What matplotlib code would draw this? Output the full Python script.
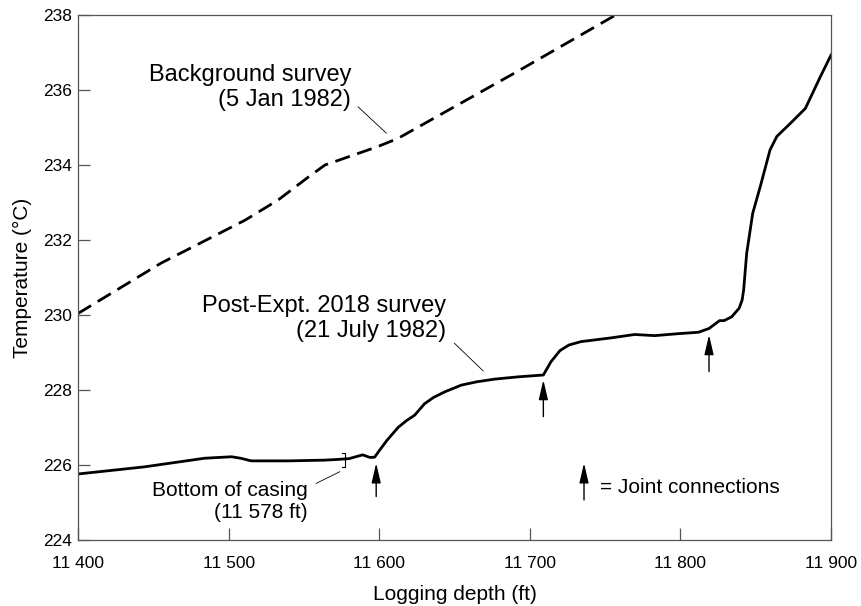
import matplotlib

matplotlib.use("Agg")

import matplotlib.pyplot as plt

plt.rcParams["font.family"] = ["Liberation Sans", "DejaVu Sans"]

# background survey, 5 Jan 1982 (dashed)
BG_DEPTH = [11400, 11455, 11511, 11533, 11553, 11564, 11599, 11612.5, 11692, 11757]
BG_TEMP = [230.04, 231.38, 232.53, 233.07, 233.68, 234.0, 234.49, 234.71, 236.5, 238.0]

# post-experiment survey, 21 July 1982 (solid)
POST_DEPTH = [
    11400, 11444, 11484, 11502, 11508, 11515, 11540, 11564, 11573, 11580,
    11589, 11594, 11597, 11600, 11605, 11612.5, 11618, 11623.6, 11630, 11636,
    11643.5, 11654.5, 11665, 11676.7, 11692, 11709, 11714, 11720, 11726, 11734,
    11754, 11769.6, 11783, 11798, 11812, 11819, 11826, 11829, 11834, 11839,
    11841, 11842, 11844, 11848, 11853, 11859.5, 11864, 11873, 11883, 11893, 11900,
]
POST_TEMP = [
    225.76, 225.95, 226.18, 226.22, 226.18, 226.11, 226.11, 226.13, 226.15, 226.17,
    226.27, 226.2, 226.21, 226.38, 226.65, 227.0, 227.18, 227.33, 227.63, 227.8,
    227.95, 228.13, 228.22, 228.29, 228.35, 228.4, 228.75, 229.05, 229.2, 229.29,
    229.39, 229.48, 229.45, 229.5, 229.54, 229.64, 229.85, 229.85, 229.95, 230.18,
    230.4, 230.67, 231.64, 232.71, 233.42, 234.4, 234.76, 235.11, 235.51, 236.36, 236.93,
]

# joint connections (arrows): depth, tail and tip temperature
JOINT_DEPTH = [11598, 11709, 11819]
JOINT_TAIL = [225.16, 227.29, 228.49]
JOINT_TIP = [226.05, 228.27, 229.47]

CASING_DEPTH = 11578
CASING_TEMP = (225.95, 226.32)

X_TICKS = [11400, 11500, 11600, 11700, 11800, 11900]
X_TICK_LABELS = ["11 400", "11 500", "11 600", "11 700", "11 800", "11 900"]
Y_TICKS = [224, 226, 228, 230, 232, 234, 236, 238]

SPINE = "#555555"


def arrow(ax, x, y0, y1):
    ax.annotate(
        "",
        xy=(x, y1),
        xytext=(x, y0),
        arrowprops=dict(arrowstyle="-|>,head_length=1.2,head_width=0.28", color="black",
                        lw=1.0, shrinkA=0, shrinkB=0, mutation_scale=10),
    )


fig = plt.figure(figsize=(8.61, 6.06), dpi=100)
ax = fig.add_axes([78 / 861, 1 - 540 / 606, 753 / 861, 525 / 606])

ax.plot(BG_DEPTH, BG_TEMP, color="black", lw=2.0, dashes=(5.5, 2.8), solid_capstyle="butt")
ax.plot(POST_DEPTH, POST_TEMP, color="black", lw=2.0)

for x, y0, y1 in zip(JOINT_DEPTH, JOINT_TAIL, JOINT_TIP):
    arrow(ax, x, y0, y1)

# casing bracket
cx = CASING_DEPTH - 1
ax.plot([cx - 1.8, cx, cx, cx - 1.8], [CASING_TEMP[1], CASING_TEMP[1], CASING_TEMP[0], CASING_TEMP[0]],
        color="black", lw=0.8)

# labels and leader lines (y = baseline of the last line)
ax.text(11581.3, 235.57, "Background survey\n(5 Jan 1982)", ha="right", va="baseline",
        multialignment="right", fontsize=17)
ax.plot([11586, 11604.7], [235.55, 234.85], color="black", lw=0.6)

ax.text(11644.6, 229.41, "Post-Expt. 2018 survey\n(21 July 1982)", ha="right", va="baseline",
        multialignment="right", fontsize=17)
ax.plot([11650, 11669], [229.245, 228.51], color="black", lw=0.6)

ax.text(11552.7, 224.58, "Bottom of casing\n(11 578 ft)", ha="right", va="baseline",
        multialignment="right", fontsize=15, linespacing=1.24)
ax.plot([11558.2, 11573.8], [225.51, 225.82], color="black", lw=0.6)

arrow(ax, 11736, 225.07, 226.05)
ax.text(11746.3, 225.26, "= Joint connections", ha="left", va="baseline", fontsize=15)

ax.set_xlim(11400, 11900)
ax.set_ylim(224, 238)
ax.set_xticks(X_TICKS)
ax.set_xticklabels(X_TICK_LABELS)
ax.set_yticks(Y_TICKS)
ax.tick_params(direction="in", length=8.5, width=0.9, color=SPINE, labelsize=12.5)
ax.tick_params(axis="x", pad=11.4)
ax.tick_params(axis="y", pad=4.5)
for s in ax.spines.values():
    s.set_color(SPINE)
    s.set_linewidth(0.9)

ax.set_xlabel("Logging depth (ft)", fontsize=15, labelpad=10)
ax.set_ylabel("Temperature (\u00b0C)", fontsize=15, labelpad=8)

fig.savefig("out.png", dpi=100, facecolor="white")
